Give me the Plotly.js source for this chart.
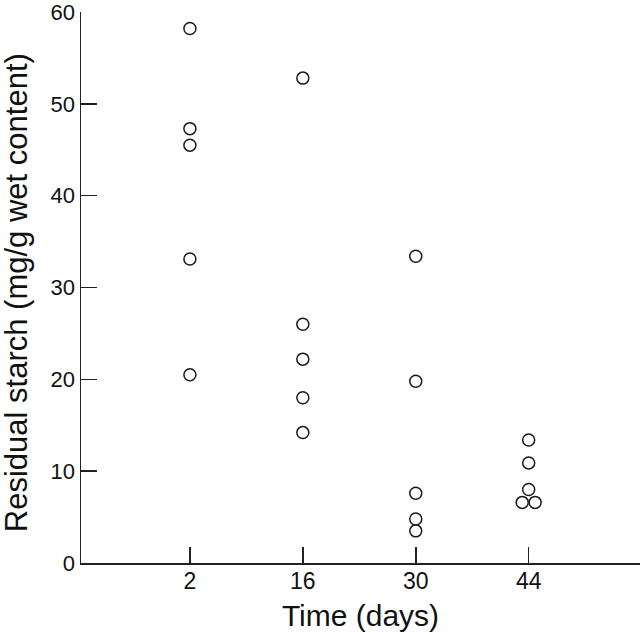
<!DOCTYPE html>
<html>
<head>
<meta charset="utf-8">
<script src="https://cdn.plot.ly/plotly-3.0.1.min.js"></script>
<style>html,body{margin:0;padding:0;background:#fff;}#chart{width:640px;height:634px;}</style>
</head>
<body>
<div id="chart"></div>
<script>
// Data
const tickDays = [2, 16, 30, 44];
const day2X = [2, 2, 2, 2, 2];
const day2Y = [58.2, 47.3, 45.5, 33.1, 20.5];
const day16X = [16, 16, 16, 16, 16];
const day16Y = [52.8, 26.0, 22.2, 18.0, 14.2];
const day30X = [30, 30, 30, 30, 30];
const day30Y = [33.4, 19.8, 7.6, 4.8, 3.5];
const day44X = [44, 44, 44, 43.2, 44.8];
const day44Y = [13.4, 10.9, 8.0, 6.6, 6.6];
const yTicks = [0, 10, 20, 30, 40, 50, 60];
const xTitle = 'Time (days)';
const yTitle = 'Residual starch (mg/g wet content)';

const marker = {symbol: 'circle-open', size: 12, color: '#1a1a1a', line: {width: 1.5, color: '#1a1a1a'}};
const mk = (x, y) => ({type: 'scatter', mode: 'markers', x: x, y: y, marker: marker, showlegend: false, hoverinfo: 'skip', cliponaxis: false});

const data = [mk(day2X, day2Y), mk(day16X, day16Y), mk(day30X, day30Y), mk(day44X, day44Y)];

const fam = 'Liberation Sans, Arial, Helvetica, sans-serif';
const layout = {
  width: 640, height: 634,
  margin: {l: 81, r: 0, t: 12, b: 71, pad: 0},
  paper_bgcolor: '#fff', plot_bgcolor: '#fff',
  font: {family: fam, color: '#111'},
  showlegend: false,
  xaxis: {
    range: [-11.5, 57.8],
    tickmode: 'array', tickvals: tickDays, ticktext: tickDays.map(String),
    ticks: 'inside', ticklen: 16, tickwidth: 1.5, tickcolor: '#222',
    showline: true, linecolor: '#222', linewidth: 1.5,
    showgrid: false, zeroline: false,
    ticklabelstandoff: -3,
    tickfont: {size: 23, family: fam, color: '#111'},
    title: {text: xTitle, font: {size: 30, family: fam, color: '#111'}, standoff: 12}
  },
  yaxis: {
    range: [0, 60],
    tickmode: 'array', tickvals: yTicks,
    ticks: 'inside', ticklen: 16, tickwidth: 1.5, tickcolor: '#222',
    showline: true, linecolor: '#222', linewidth: 1.5,
    showgrid: false, zeroline: false,
    ticklabeloverflow: 'allow',
    tickfont: {size: 22, family: fam, color: '#111'}
  },
  annotations: [{
    text: yTitle, textangle: -90, showarrow: false,
    xref: 'paper', yref: 'paper', x: -0.116, y: 0.49,
    xanchor: 'center', yanchor: 'middle',
    font: {size: 31, family: fam, color: '#111'}
  }]
};

Plotly.newPlot('chart', data, layout, {staticPlot: true, displayModeBar: false});
</script>
</body>
</html>
